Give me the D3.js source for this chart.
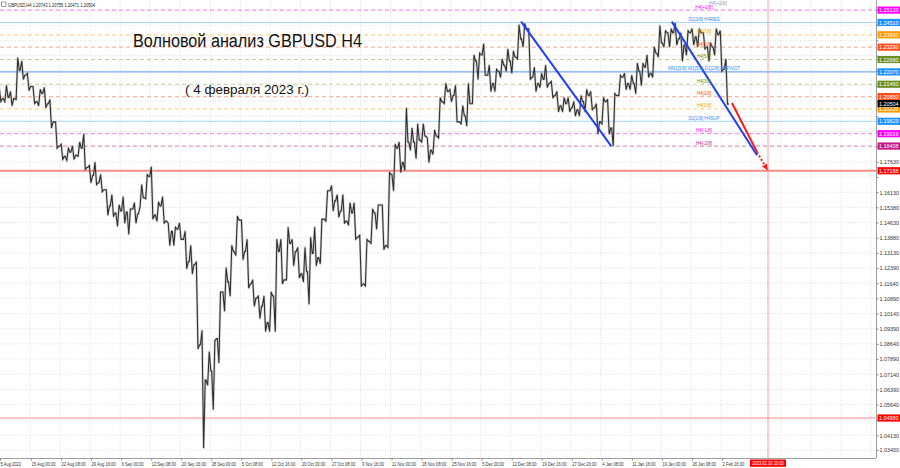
<!DOCTYPE html>
<html><head><meta charset="utf-8">
<script src="https://cdn.jsdelivr.net/npm/d3@7"></script>
<style>
body{margin:0;background:#fff;}
svg{display:block;}
text{font-family:"Liberation Sans",Arial,sans-serif;}
</style></head>
<body>
<svg id="c" width="900" height="468"></svg>
<script>
// ---- daily OHLC (5 Aug 2022 .. 3 Feb 2023), open = previous close ----
const firstOpen = 1.2120;
const high = [1.2130,1.2140,1.2110,1.2276,1.2260,1.2200,1.2135,1.2120,1.2130,1.2070,
1.1960,1.1850,1.1830,1.1840,1.1860,1.1900,1.1745,1.1760,1.1700,1.1625,
1.1600,1.1550,1.1590,1.1530,1.1560,1.1650,1.1700,1.1738,1.1565,1.1590,
1.1460,1.1440,1.1460,1.1420,1.1350,1.1270,1.0930,1.0825,1.0880,1.1120,
1.1240,1.1350,1.1495,1.1475,1.1380,1.1180,1.1100,1.1100,1.1120,1.1380,
1.1380,1.1440,1.1380,1.1340,1.1340,1.1390,1.1440,1.1480,1.1620,1.1645,
1.1600,1.1600,1.1560,1.1560,1.1400,1.1380,1.1530,1.1550,1.1550,1.1710,
1.1850,1.1860,1.2028,1.1930,1.1950,1.1950,1.1880,1.1920,1.2080,1.2150,
1.2120,1.2140,1.2040,1.2150,1.2290,1.2300,1.2345,1.2240,1.2220,1.2270,
1.2320,1.2310,1.2440,1.2446,1.2420,1.2230,1.2200,1.2240,1.2160,1.2110,
1.2080,1.2080,1.2060,1.2090,1.2120,1.2110,1.2050,1.2080,1.2070,1.2100,
1.2190,1.2200,1.2190,1.2250,1.2250,1.2290,1.2330,1.2435,1.2410,1.2420,
1.2448,1.2400,1.2410,1.2420,1.2420,1.2400,1.2350,1.2420,1.2410,1.2270];
const low = [1.2060,1.2060,1.2040,1.2070,1.2170,1.2115,1.2050,1.2040,1.2030,1.1930,
1.1830,1.1775,1.1770,1.1775,1.1790,1.1725,1.1660,1.1650,1.1615,1.1500,
1.1495,1.1445,1.1460,1.1405,1.1460,1.1540,1.1580,1.1480,1.1470,1.1460,
1.1350,1.1350,1.1380,1.1235,1.1210,1.0840,1.0350,1.0660,1.0540,1.0770,
1.1025,1.1100,1.1300,1.1280,1.1140,1.1050,1.0990,1.0925,1.0925,1.0925,
1.1160,1.1180,1.1250,1.1190,1.1170,1.1060,1.1250,1.1260,1.1470,1.1520,
1.1490,1.1460,1.1450,1.1380,1.1150,1.1150,1.1360,1.1430,1.1330,1.1340,
1.1620,1.1710,1.1720,1.1820,1.1780,1.1860,1.1760,1.1800,1.1880,1.2050,
1.2060,1.1960,1.1950,1.1940,1.2050,1.2170,1.2190,1.2110,1.2110,1.2180,
1.2210,1.2200,1.2270,1.2330,1.2170,1.2110,1.2130,1.2130,1.2080,1.2010,
1.2010,1.2010,1.1990,1.1990,1.2010,1.2020,1.1900,1.1950,1.1900,1.1841,
1.2090,1.2120,1.2120,1.2100,1.2140,1.2180,1.2180,1.2280,1.2330,1.2330,
1.2340,1.2260,1.2290,1.2340,1.2330,1.2320,1.2260,1.2290,1.2210,1.2047];
const close = [1.2075,1.2080,1.2075,1.2215,1.2190,1.2135,1.2060,1.2100,1.2050,1.1960,
1.1840,1.1790,1.1810,1.1795,1.1830,1.1735,1.1695,1.1660,1.1625,1.1545,
1.1510,1.1520,1.1515,1.1530,1.1505,1.1585,1.1690,1.1500,1.1545,1.1470,
1.1420,1.1430,1.1380,1.1270,1.1255,1.0860,1.0685,1.0730,1.0890,1.1120,
1.1170,1.1320,1.1475,1.1320,1.1160,1.1090,1.1050,1.0970,1.1100,1.1320,
1.1180,1.1360,1.1320,1.1210,1.1220,1.1310,1.1290,1.1480,1.1620,1.1570,
1.1520,1.1470,1.1510,1.1390,1.1160,1.1370,1.1510,1.1550,1.1350,1.1700,
1.1830,1.1760,1.1860,1.1860,1.1870,1.1890,1.1820,1.1890,1.2060,1.2110,
1.2090,1.1960,1.1990,1.2050,1.2260,1.2290,1.2190,1.2150,1.2210,1.2240,
1.2260,1.2280,1.2370,1.2420,1.2180,1.2150,1.2170,1.2150,1.2090,1.2040,
1.2050,1.2030,1.2020,1.2060,1.2090,1.2030,1.1960,1.2060,1.1930,1.2090,
1.2180,1.2150,1.2150,1.2210,1.2230,1.2200,1.2300,1.2350,1.2400,1.2400,
1.2370,1.2340,1.2400,1.2380,1.2400,1.2330,1.2330,1.2390,1.2220,1.2050];

// ---- time axis (H4 bar offsets from 15 Aug 00:00) ----
const timeTickBars = [-33,0,32,64,96,128,160,192,224,256,288,320,352,384,416,448,480,512,544,576,608,640,672,704,736];
const timeTickLabels = ['5 Aug 2022','15 Aug 00:00','22 Aug 08:00','29 Aug 16:00','6 Sep 00:00','13 Sep 08:00','20 Sep 16:00','28 Sep 00:00','5 Oct 08:00','12 Oct 16:00','20 Oct 00:00','27 Oct 08:00','3 Nov 16:00','11 Nov 00:00','18 Nov 08:00','25 Nov 16:00','5 Dec 00:00','12 Dec 08:00','19 Dec 16:00','27 Dec 20:00','4 Jan 08:00','11 Jan 16:00','19 Jan 00:00','26 Jan 08:00','2 Feb 16:00'];
const futureLineBar = 785;
const futureLineLabel = '2023.02.10 20:00';

// ---- price axis ----
const priceTicks = [1.25120,1.24370,1.23620,1.22870,1.22120,1.21380,1.20630,1.19880,1.19130,1.18380,1.17630,1.16880,1.16130,1.15380,1.14630,1.13880,1.13130,1.12390,1.11640,1.10890,1.10140,1.09390,1.08640,1.07890,1.07140,1.06390,1.05640,1.04880,1.04130,1.03400];

// ---- Murrey levels ----
const levelPrices = [1.25120,1.24510,1.23900,1.23290,1.22680,1.22070,1.21460,1.20850,1.20239,1.19629,1.19019,1.18408];
const levelNames = ['H4[+1/8]','D1[3/8] H4RES','H4[7/8]','H4[6/8]','H4[5/8]','MN1[5/8] W1[5/8] D1[2/8] H4PIVOT','H4[3/8]','H4[2/8]','H4[1/8]','D1[1/8] H4SUP','H4[-1/8]','H4[-2/8]'];
const levelColors = ['#ff00ff','#1e90ff','#ff9900','#ff4f1f','#6b8e23','#1e90ff','#6b8e23','#ff4f1f','#ff9900','#1e90ff','#ff00ff','#c71585'];
const levelKinds = ['dash','solid','dash','dash','dash','pivot','dash','dash','dash','solid','dash','dash'];
const redLevels = [1.17188,1.04980];
const lastPrice = 1.20504;
const header = 'GBPUSD,H4  1.20743 1.20755 1.20471 1.20504';

// ---- drawn lines (bar offset, price) ----
const trend1Bars = [522,618], trend1Prices = [1.2455,1.1840];
const trend2Bars = [682.5,773.3], trend2Prices = [1.2455,1.1795];
const arrowBars = [746.6,773.3,784.5], arrowPrices = [1.2053,1.1811,1.1722];

const title = 'Волновой анализ GBPUSD H4';
const subtitle = '( 4 февраля 2023 г.)';

// ================= drawing =================
const svg = d3.select('#c');
const plotR = 876, plotB = 458;
const FS = 6, SQ = 0.68;
const x = d3.scaleLinear().domain([0,736]).range([31,722]);
const y = d3.scaleLinear().domain([1.034,1.25125]).range([450,10]);
const barOf = i => 6*i - 33;
const fmt = d3.format('.5f');
// horizontally condense a text while keeping its anchor position
function condense(sel, r){
  sel.each(function(){
    const t = d3.select(this);
    const X = +(t.attr('x')||0);
    t.attr('x', X/r).attr('transform', `scale(${r},1)`);
  });
  return sel;
}

svg.append('rect').attr('width',900).attr('height',468).attr('fill','#fff');

// grid
const grid = svg.append('g');
const vGridBars = d3.range(0,29).map(k=>k*32);
grid.selectAll('line.v').data(vGridBars).join('line')
  .attr('x1',d=>x(d)-1).attr('x2',d=>x(d)-1).attr('y1',0).attr('y2',plotB)
  .attr('stroke','#d4d4d4').attr('stroke-dasharray','1,1.5').attr('stroke-width',0.7);
grid.selectAll('line.h').data(priceTicks).join('line')
  .attr('x1',0).attr('x2',plotR).attr('y1',d=>y(d)).attr('y2',d=>y(d))
  .attr('stroke','#d4d4d4').attr('stroke-dasharray','1,1.5').attr('stroke-width',0.7);

// level lines
const lv = svg.append('g');
levelPrices.forEach((p,i)=>{
  const k = levelKinds[i];
  const c = levelColors[i];
  const ln = lv.append('line').attr('x1',0).attr('x2',plotR).attr('y1',y(p)).attr('y2',y(p));
  if(k==='solid'){ ln.attr('stroke','#a6d4ff').attr('stroke-width',1); }
  else if(k==='pivot'){ ln.attr('stroke','#74aef2').attr('stroke-width',1.3); }
  else {
    ln.attr('stroke',c).attr('stroke-opacity',0.42).attr('stroke-width',1.2).attr('stroke-dasharray','4,3');
  }
});
redLevels.forEach((p,i)=>{
  lv.append('line').attr('x1',0).attr('x2',plotR).attr('y1',y(p)).attr('y2',y(p))
    .attr('stroke','#ff8a8a').attr('stroke-width',i===0?2:1);
});
lv.append('line').attr('x1',x(futureLineBar)).attr('x2',x(futureLineBar)).attr('y1',0).attr('y2',plotB)
  .attr('stroke','#ff9a9a').attr('stroke-width',1);

// price path (each day: open -> extreme -> extreme -> close)
const opens = close.map((c,i)=> i===0 ? firstOpen : close[i-1]);
const pts = [];
close.forEach((c,i)=>{
  const cx = x(barOf(i)), o = opens[i], up = c >= o;
  const e1 = up ? low[i] : high[i], e2 = up ? high[i] : low[i];
  pts.push([cx-2.4,y(o)],[cx-0.8,y(e1)],[cx+0.8,y(e2)],[cx+2.4,y(c)]);
});
const pl = d3.line();
svg.append('path').attr('d',pl(pts)).attr('fill','none').attr('stroke','#a8a8a8').attr('stroke-width',2.4).attr('stroke-linejoin','round').attr('opacity',0.55);
svg.append('path').attr('d',pl(pts)).attr('fill','none').attr('stroke','#2e2e2e').attr('stroke-width',1.05).attr('stroke-linejoin','miter');

// trend lines
const line = d3.line().x(d=>x(d[0])).y(d=>y(d[1]));
svg.append('path').attr('d',line(d3.zip(trend1Bars,trend1Prices))).attr('stroke','#1f3fff').attr('stroke-width',2).attr('fill','none');
svg.append('path').attr('d',line(d3.zip(trend2Bars,trend2Prices))).attr('stroke','#1f3fff').attr('stroke-width',2).attr('fill','none');
const ap = d3.zip(arrowBars,arrowPrices);
svg.append('path').attr('d',line(ap.slice(0,2))).attr('stroke','#ff1a1a').attr('stroke-width',2).attr('fill','none');
svg.append('path').attr('d',line(ap.slice(1,3))).attr('stroke','#ff1a1a').attr('stroke-width',2).attr('stroke-dasharray','2,2').attr('fill','none');
{
  const [bx,by] = [x(ap[2][0]),y(ap[2][1])];
  const [px,py] = [x(ap[1][0]),y(ap[1][1])];
  const ang = Math.atan2(by-py,bx-px);
  const L=6,Wd=3;
  const p3 = [[bx,by],[bx-L*Math.cos(ang)+Wd*Math.sin(ang),by-L*Math.sin(ang)-Wd*Math.cos(ang)],[bx-L*Math.cos(ang)-Wd*Math.sin(ang),by-L*Math.sin(ang)+Wd*Math.cos(ang)]];
  svg.append('polygon').attr('points',p3.map(p=>p.join(',')).join(' ')).attr('fill','#ff1a1a');
}

// level text labels in chart
condense(svg.append('g').selectAll('text').data(levelPrices).join('text')
  .attr('x',704).attr('y',d=>y(d)-1.5).attr('text-anchor','middle')
  .attr('font-size',FS).attr('fill',(d,i)=>levelColors[i]).text((d,i)=>levelNames[i]),0.76);
condense(svg.append('text').attr('x',718).attr('y',5.2).attr('text-anchor','middle').attr('font-size',FS).attr('fill','#999').text('H4[+2/8]'),0.76);

// frame
svg.append('line').attr('x1',plotR+0.5).attr('x2',plotR+0.5).attr('y1',0).attr('y2',plotB).attr('stroke','#a0a0a0');
svg.append('line').attr('x1',0).attr('x2',plotR).attr('y1',plotB+0.5).attr('y2',plotB+0.5).attr('stroke','#a0a0a0');

// coloured price boxes (values)
const boxPrices = levelPrices.concat([lastPrice, redLevels[0], redLevels[1]]);
const boxColors = levelColors.concat(['#000','#ff0000','#ff0000']);

// price axis (labels hidden where a coloured box covers them)
const covered = p => boxPrices.some(b => Math.abs(y(b)-y(p)) < 6.5);
const ay = svg.append('g').attr('transform',`translate(${plotR+0.5},0)`)
  .call(d3.axisRight(y).tickValues(priceTicks).tickFormat(fmt).tickSize(2).tickPadding(1.5));
ay.select('.domain').remove();
ay.selectAll('.tick').filter(d=>covered(d)).select('text').remove();
ay.selectAll('text').attr('font-size',FS).attr('fill','#333').attr('x',3);
condense(ay.selectAll('text'),0.9);
ay.selectAll('line').attr('stroke','#888');

const bg = svg.append('g');
bg.selectAll('rect').data(boxPrices).join('rect')
  .attr('x',plotR+1.5).attr('y',d=>y(d)-3.6).attr('width',22.5).attr('height',7.2).attr('fill',(d,i)=>boxColors[i]);
condense(bg.selectAll('text').data(boxPrices).join('text')
  .attr('x',plotR+3).attr('y',d=>y(d)+2.1).attr('font-size',FS).attr('fill','#fff').text(d=>fmt(d)),0.9);

// time axis
const ax = svg.append('g').attr('transform',`translate(0,${plotB+0.5})`)
  .call(d3.axisBottom(x).tickValues(timeTickBars).tickFormat((d,i)=>timeTickLabels[i]).tickSize(2).tickPadding(1.2));
ax.select('.domain').remove();
ax.selectAll('text').attr('font-size',FS).attr('fill','#333').attr('text-anchor','start').attr('x',0);
ax.selectAll('.tick').filter((d,i)=>i===0).attr('transform','translate(0.5,0)');
ax.selectAll('line').attr('stroke','#888');
condense(ax.selectAll('text'),SQ);

// future label box
{
  const fx = x(futureLineBar);
  svg.append('rect').attr('x',fx-18).attr('y',plotB+1.5).attr('width',36).attr('height',7.3).attr('fill','#ff0000');
  condense(svg.append('text').attr('x',fx).attr('y',plotB+7.3).attr('text-anchor','middle').attr('font-size',FS).attr('fill','#fff').text(futureLineLabel),SQ);
}

// header
svg.append('rect').attr('x',1.5).attr('y',2).attr('width',4.5).attr('height',4.5).attr('fill','none').attr('stroke','#777').attr('stroke-width',0.7);
condense(svg.append('text').attr('x',8).attr('y',7).attr('font-size',FS).attr('fill','#222').text(header),SQ);

// titles
svg.append('text').attr('x',133).attr('y',47).attr('font-size',18).attr('fill','#111')
  .attr('textLength',229).attr('lengthAdjust','spacingAndGlyphs').text(title);
svg.append('text').attr('x',185).attr('y',94).attr('font-size',13).attr('fill','#111')
  .attr('textLength',124).attr('lengthAdjust','spacingAndGlyphs').text(subtitle);
</script>
</body></html>
